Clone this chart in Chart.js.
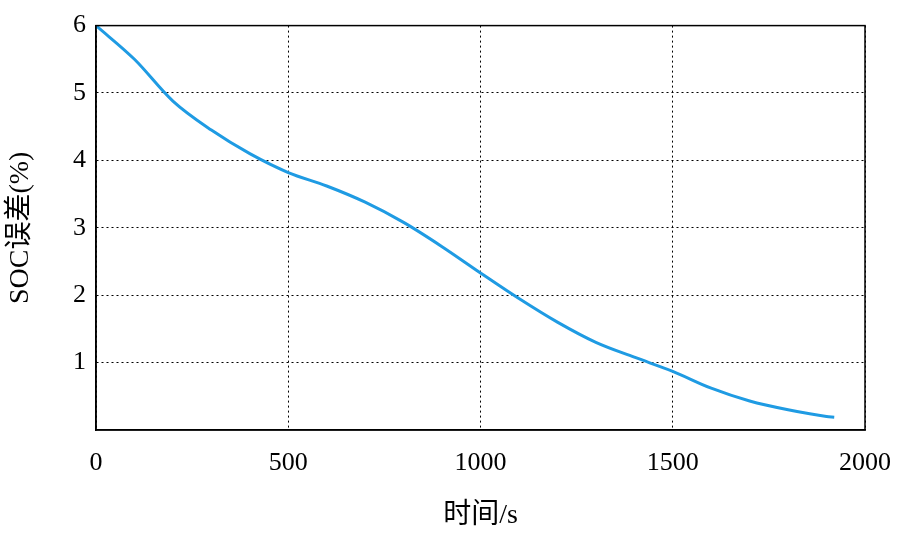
<!DOCTYPE html>
<html><head><meta charset="utf-8">
<script src="https://cdn.jsdelivr.net/npm/chart.js@4"></script>
<style>html,body{margin:0;padding:0;background:#fff}#w{width:909px;height:536px}</style>
</head><body><div id="w"><canvas id="c"></canvas></div>
<script>
const timeS = [0,100,200,300,400,500,600,700,800,900,1000,1100,1200,1300,1400,1500,1600,1700,1800,1900,1920];
const socErr = [6,5.5,4.88,4.45,4.1,3.82,3.62,3.38,3.08,2.72,2.33,1.95,1.6,1.3,1.08,0.87,0.62,0.43,0.3,0.2,0.19];
const xTicks = [0,500,1000,1500,2000];
const yTicks = [1,2,3,4,5,6];
const font = {family:'"Liberation Serif","Times New Roman",serif', size:26};
new Chart(document.getElementById('c'), {
  type:'line',
  data:{datasets:[{data:timeS.map((t,i)=>({x:t,y:socErr[i]})), borderColor:'#1f9be3', borderWidth:3, pointRadius:0, cubicInterpolationMode:'monotone', fill:false}]},
  options:{
    responsive:true, maintainAspectRatio:false, animation:false,
    layout:{padding:{left:0,top:23,right:33,bottom:0}},
    plugins:{legend:{display:false},tooltip:{enabled:false}},
    scales:{
      x:{type:'linear',min:0,max:2000,
        afterBuildTicks:a=>{a.ticks=xTicks.map(v=>({value:v}));},
        afterFit:a=>{a.height=106;},
        ticks:{color:'#000',font,padding:18,maxRotation:0,callback:v=>String(v)},
        grid:{color:'#000',lineWidth:1,drawTicks:false},
        border:{display:true,color:'#000',width:1.5,dash:[2,3]},
        title:{display:true,text:'时间/s',color:'#000',font:{family:'"Liberation Serif","Noto Sans CJK SC",serif',size:28},padding:{top:0}}},
      y:{type:'linear',min:0,max:6,
        afterBuildTicks:a=>{a.ticks=yTicks.map(v=>({value:v}));},
        afterFit:a=>{a.width=96;},
        ticks:{color:'#000',font,padding:10,callback:v=>String(v)},
        grid:{color:'#000',lineWidth:1,drawTicks:false},
        border:{display:true,color:'#000',width:1.5,dash:[2,3]},
        title:{display:true,text:'SOC误差(%)',color:'#000',font:{family:'"Liberation Serif","Noto Sans CJK SC",serif',size:28},padding:{bottom:4}}}
    }
  },
  plugins:[{id:'box',afterDraw(ch){const a=ch.chartArea,x=ch.ctx;x.save();x.setLineDash([]);x.strokeStyle='#000';x.lineWidth=1.5;x.strokeRect(a.left,a.top,a.right-a.left,a.bottom-a.top);x.restore();}}]
});
</script></body></html>
